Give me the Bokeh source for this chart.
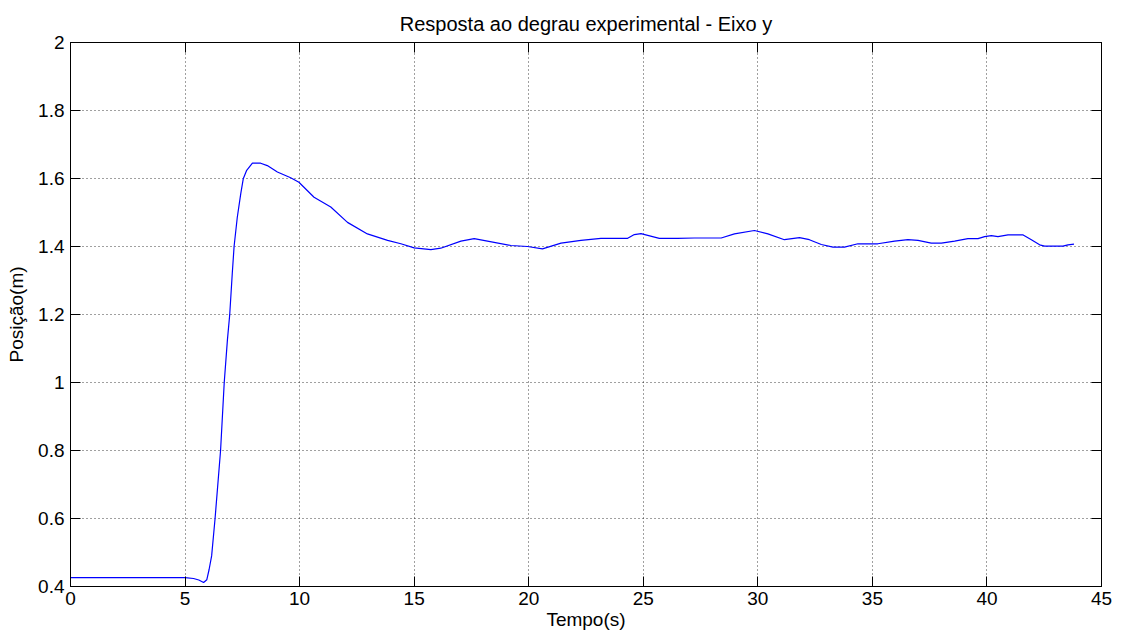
from bokeh.plotting import figure
from bokeh.models import (Range1d, FixedTicker, LinearAxis, CustomJSTickFormatter,
                          ColumnDataSource)
from bokeh.embed import file_html
from bokeh.resources import INLINE

# Experimental step response, y axis
tempo = [
    0, 5.0, 5.37, 5.6, 5.81, 5.95, 6.05, 6.16, 6.31, 6.55,
    6.71, 6.85, 6.95, 7.06, 7.14, 7.28, 7.43, 7.54, 7.69, 7.94,
    8.3, 8.59, 9.03, 9.61, 9.97, 10.63, 11.36, 12.09, 12.96, 13.84,
    14.42, 15.0, 15.73, 16.16, 17.04, 17.62, 18.2, 19.22, 19.95, 20.6,
    21.41, 22.28, 23.15, 24.32, 24.61, 24.9, 25.7, 26.5, 27.23, 28.4,
    28.98, 29.85, 30.44, 31.16, 31.82, 32.25, 32.77, 33.28, 33.78, 34.37,
    35.24, 35.97, 36.55, 36.99, 37.57, 38.01, 38.59, 39.17, 39.61, 39.9,
    40.19, 40.48, 40.92, 41.58, 41.94, 42.3, 42.52, 43.32, 43.54, 43.8,
]
posicao = [
    0.426, 0.426, 0.4235, 0.419, 0.412, 0.42, 0.45, 0.49, 0.6, 0.8,
    1.0, 1.126, 1.2, 1.32, 1.4, 1.486, 1.555, 1.599, 1.624, 1.645,
    1.645, 1.638, 1.619, 1.602, 1.589, 1.545, 1.516, 1.471, 1.437, 1.418,
    1.408, 1.396, 1.391, 1.395, 1.416, 1.423, 1.416, 1.403, 1.4, 1.393,
    1.41, 1.418, 1.424, 1.424, 1.435, 1.438, 1.424, 1.424, 1.425, 1.425,
    1.437, 1.447, 1.437, 1.42, 1.426, 1.42, 1.406, 1.398, 1.398, 1.408,
    1.408, 1.416, 1.42, 1.418, 1.41, 1.41, 1.416, 1.423, 1.423, 1.429,
    1.432, 1.429, 1.434, 1.434, 1.42, 1.405, 1.401, 1.401, 1.405, 1.407,
]

x_ticks = [0, 5, 10, 15, 20, 25, 30, 35, 40, 45]
y_ticks = [0.4, 0.6, 0.8, 1.0, 1.2, 1.4, 1.6, 1.8, 2.0]

FONT = "Liberation Sans"
FS = "19px"

p = figure(width=1127, height=640, output_backend="svg", toolbar_location=None,
           x_range=Range1d(0, 45), y_range=Range1d(0.4, 2.0),
           min_border_left=70, min_border_right=26, min_border_top=42,
           min_border_bottom=54, background_fill_color="white",
           border_fill_color="white")

p.title.text = "Resposta ao degrau experimental - Eixo y"
p.title.align = "center"
p.title.text_font = FONT
p.title.text_font_size = "20px"
p.title.text_font_style = "normal"
p.title.text_color = "black"
p.title.standoff = 16

fmt = CustomJSTickFormatter(code="return String(Number(tick.toFixed(1)));")
blank = CustomJSTickFormatter(code="return '';")

def style_axis(ax, ticks, formatter, show_labels=True):
    ax.ticker = FixedTicker(ticks=ticks)
    ax.formatter = formatter
    ax.major_tick_in = 10
    ax.major_tick_out = 0
    ax.minor_tick_line_color = None
    ax.axis_line_color = "black"
    ax.major_tick_line_color = "black"
    ax.major_label_text_font = FONT
    ax.major_label_text_font_size = FS
    ax.major_label_text_color = "black"
    ax.axis_label_text_font = FONT
    ax.axis_label_text_font_size = FS
    ax.axis_label_text_font_style = "normal"
    ax.axis_label_text_color = "black"
    if not show_labels:
        ax.major_label_text_font_size = "0px"
        ax.major_label_standoff = 0

style_axis(p.xaxis[0], x_ticks, fmt)
style_axis(p.yaxis[0], y_ticks, fmt)
p.xaxis[0].axis_label = "Tempo(s)"
p.yaxis[0].axis_label = "Posição(m)"
p.xaxis[0].major_label_standoff = 5
p.xaxis[0].axis_label_standoff = 1
p.yaxis[0].major_label_standoff = 6
p.yaxis[0].axis_label_standoff = 8

top_ax = LinearAxis()
right_ax = LinearAxis()
style_axis(top_ax, x_ticks, blank, show_labels=False)
style_axis(right_ax, y_ticks, blank, show_labels=False)
p.add_layout(top_ax, "above")
p.add_layout(right_ax, "right")

for g in (p.xgrid[0], p.ygrid[0]):
    g.grid_line_color = "black"
    g.grid_line_alpha = 0.75
    g.grid_line_dash = "1 3"
    g.grid_line_width = 1
p.xgrid[0].ticker = FixedTicker(ticks=x_ticks)
p.ygrid[0].ticker = FixedTicker(ticks=y_ticks)

p.outline_line_color = "black"

src = ColumnDataSource(data=dict(t=tempo, y=posicao))
p.line("t", "y", source=src, line_color="#0000ff", line_width=1.2)

open("out.html", "w").write(file_html(p, INLINE))
